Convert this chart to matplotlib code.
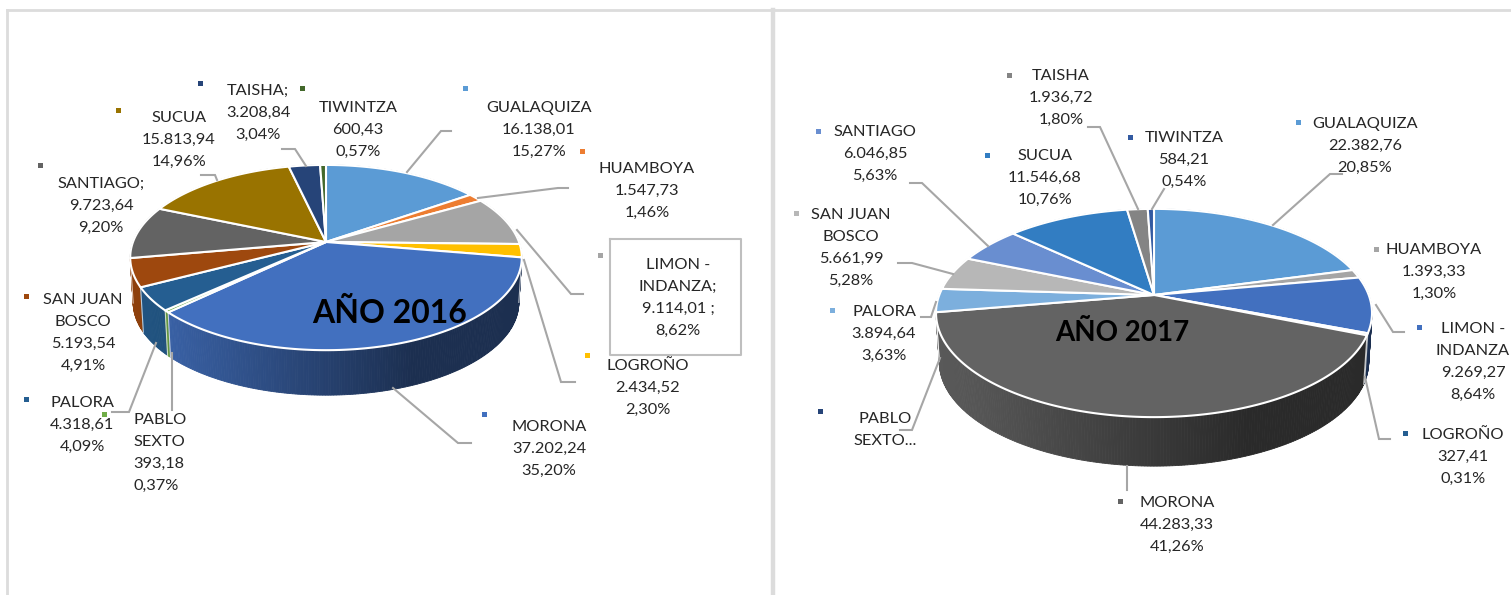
import numpy as np
from matplotlib import pyplot as plt
from matplotlib.colors import to_rgb

plt.rcParams['font.family'] = ['Lato', 'DejaVu Sans']

# ---- data ----
names_16 = ["GUALAQUIZA", "HUAMBOYA", "LIMON -\nINDANZA;", "LOGROÑO", "MORONA", "PABLO\nSEXTO",
            "PALORA", "SAN JUAN\nBOSCO", "SANTIAGO;", "SUCUA", "TAISHA;", "TIWINTZA"]
values_16 = [16138.01, 1547.73, 9114.01, 2434.52, 37202.24, 393.18,
             4318.61, 5193.54, 9723.64, 15813.94, 3208.84, 600.43]
pct_16 = [15.27, 1.46, 8.62, 2.30, 35.20, 0.37, 4.09, 4.91, 9.20, 14.96, 3.04, 0.57]
colors_16 = ["#5B9BD5", "#ED7D31", "#A5A5A5", "#FFC000", "#4270BF", "#70AD47",
             "#255E91", "#9E480E", "#636363", "#997300", "#264478", "#43682B"]

names_17 = ["GUALAQUIZA", "HUAMBOYA", "LIMON -\nINDANZA", "LOGROÑO", "MORONA", "PABLO\nSEXTO...",
            "PALORA", "SAN JUAN\nBOSCO", "SANTIAGO", "SUCUA", "TAISHA", "TIWINTZA"]
values_17 = [22382.76, 1393.33, 9269.27, 327.41, 44283.33, 0.0,
             3894.64, 5661.99, 6046.85, 11546.68, 1936.72, 584.21]
pct_17 = [20.85, 1.30, 8.64, 0.31, 41.26, 0.0, 3.63, 5.28, 5.63, 10.76, 1.80, 0.54]
colors_17 = ["#5B9BD5", "#A5A5A5", "#4270BF", "#255E91", "#636363", "#264478",
             "#7CAFDD", "#B7B7B7", "#698ED0", "#327DC2", "#848484", "#335AA1"]

# label centre (x, y), legend key (x, y)
label_pos_16 = [(539, 130), (647, 191), (678, 298), (648, 388), (549, 449), (160, 453),
                (82, 425), (83, 333), (101, 206), (179, 140), (258, 113), (358, 130)]
key_pos_16 = [(465, 88), (582, 151), (600, 255), (587, 355), (484, 414), (104, 414),
              (26, 399), (26, 296), (40, 165), (118, 110), (200, 83), (302, 88)]
label_pos_17 = [(1365, 146), (1434, 272), (1473, 362), (1463, 457), (1177, 525), (885, 430),
                (884, 334), (851, 248), (875, 154), (1045, 178), (1061, 98), (1184, 160)]
key_pos_17 = [(1298, 122), (1376, 249), (1419, 327), (1405, 433), (1120, 501), (820, 411),
              (832, 310), (796, 213), (818, 131), (987, 155), (1009, 75), (1130, 137)]

leaders_16 = [[(407, 172), (441, 131), (451, 131)],
              [(478, 198), (558, 188), (568, 188)],
              [(517, 230), (571, 294), (583, 294)],
              [(524, 260), (561, 382), (575, 382)],
              [(393, 388), (458, 443), (471, 443)],
              [(172, 353), (172, 410)],
              [(156, 343), (129, 412), (112, 412)],
              [(217, 180), (215, 175), (201, 175)],
              [(306, 166), (295, 149), (282, 149)]]
leaders_17 = [[(1273, 225), (1330, 174), (1342, 174)],
              [(1376, 305), (1393, 332), (1404, 332)],
              [(1365, 377), (1379, 439), (1390, 439)],
              [(1127, 466), (1127, 490)],
              [(940, 358), (912, 430), (900, 430)],
              [(936, 302), (931, 317), (921, 317)],
              [(953, 274), (912, 263), (898, 263)],
              [(988, 246), (922, 183), (910, 183)],
              [(1138, 209), (1100, 127), (1088, 127)],
              [(1152, 209), (1164, 189)]]


def es_number(v):
    return f"{v:,.2f}".replace(",", "#").replace(".", ",").replace("#", ".")


def project(th, cx, cy, rx, ry, k):
    # th clockwise from 12 o'clock, perspective squash of the unit disc
    u, v = np.sin(th), np.cos(th)
    w = 1 + k*v
    return cx + rx*u/w, cy - ry*v/w


def shade(x, left, width):
    f = (x - left)/width
    return np.interp(f, [0.0, 0.1, 0.72, 1.0], [0.9, 0.86, 0.42, 0.42])


def pie3d(ax, values, colors, cx, cy, rx, ry, k, depth, shrink=0.985):
    values = np.array(values)
    edges = np.concatenate([[0], np.cumsum(values)])/values.sum()*2*np.pi
    half = rx/np.sqrt(1 - k*k)
    left = cx - half
    # side wall, back to front
    strips = []
    for i in range(len(values)):
        n = max(2, int((edges[i+1]-edges[i])/0.012))
        t = np.linspace(edges[i], edges[i+1], n+1)
        for a, b in zip(t[:-1], t[1:]):
            strips.append((np.cos((a+b)/2), a, b, i))
    strips.sort(key=lambda s: -s[0])
    for _, a, b, i in strips:
        x1, y1 = project(np.array([a, b]), cx, cy, rx, ry, k)
        x2 = cx + (x1 - cx)*shrink
        y2 = y1 + depth
        c = np.array(to_rgb(colors[i]))*shade((x1[0]+x1[1])/2, left, 2*half)
        ax.fill([x1[0], x1[1], x2[1], x2[0]], [y1[0], y1[1], y2[1], y2[0]],
                color=tuple(c), lw=0.6, zorder=2)
    # walls between slices at the front
    for e in edges[:-1]:
        if np.cos(e) < -0.05:
            x1, y1 = project(e, cx, cy, rx, ry, k)
            ax.plot([x1, cx + (x1-cx)*shrink], [y1, y1+depth], color="white", lw=0.8, alpha=0.7, zorder=2.5)
    # top face
    for i in range(len(values)):
        if values[i] <= 0:
            continue
        t = np.linspace(edges[i], edges[i+1], max(3, int((edges[i+1]-edges[i])/0.01)))
        x, y = project(t, cx, cy, rx, ry, k)
        ax.fill(np.r_[cx, x], np.r_[cy, y], facecolor=colors[i], edgecolor="white", lw=1.5,
                joinstyle="round", zorder=3)


def draw_labels(ax, names, values, pct, colors, label_pos, key_pos, leaders, suffix={}, align={}):
    for path in leaders:
        xs, ys = zip(*path)
        ax.plot(xs, ys, color="#A6A6A6", lw=1.5, zorder=4, solid_joinstyle="miter")
    for i in range(len(names)):
        if values[i] > 0:
            txt = names[i] + "\n" + es_number(values[i]) + suffix.get(i, "") + "\n" + f"{pct[i]:.2f}%".replace(".", ",")
        else:
            txt = names[i]
        ax.text(label_pos[i][0], label_pos[i][1], txt, ha="center", va="center", fontsize=11.8,
                linespacing=1.72, multialignment=align.get(i, "center"), color="#262626", zorder=6)
        ax.plot(*key_pos[i], marker="s", ms=3.6, mew=0, color=colors[i], zorder=6)


fig = plt.figure(figsize=(15.11, 5.95), dpi=100)
ax = fig.add_axes([0, 0, 1, 1])
ax.set_xlim(0, 1511)
ax.set_ylim(595, 0)
ax.axis("off")

# panel borders
border = "#DCDCDC"
ax.plot([7, 7], [595, 10], color=border, lw=2)
ax.plot([7, 1511], [10, 10], color=border, lw=2)
ax.plot([772.5, 772.5], [10, 595], color=border, lw=3.2)

pie3d(ax, values_16, colors_16, 326, 242, 193, 90, 0.168, 45)
pie3d(ax, values_17, colors_17, 1154, 295, 214.7, 101, 0.173, 49)

draw_labels(ax, names_16, values_16, pct_16, colors_16, label_pos_16, key_pos_16, leaders_16,
            suffix={2: " ;"}, align={5: "left"})
draw_labels(ax, names_17, values_17, pct_17, colors_17, label_pos_17, key_pos_17, leaders_17)

# box around the LIMON label of 2016
ax.plot([610, 741, 741, 610, 610], [239, 239, 355, 355, 239], color="#BFBFBF", lw=1.5, zorder=5)

ax.text(390, 313, "AÑO 2016", ha="center", va="center", fontsize=23, fontweight="bold", color="black", zorder=7)
ax.text(1122, 333, "AÑO 2017", ha="center", va="center", fontsize=20, fontweight="bold", color="black", zorder=7)

fig.savefig("out.png", dpi=100)
